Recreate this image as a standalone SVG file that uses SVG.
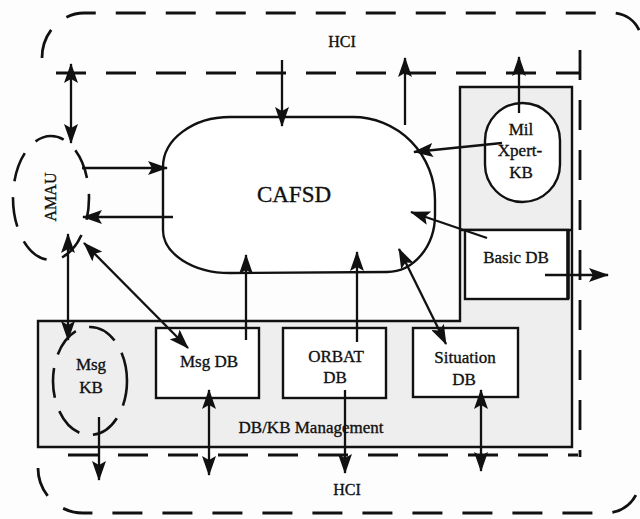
<svg xmlns="http://www.w3.org/2000/svg" width="640" height="519" viewBox="0 0 640 519">
<style>
.t{font-family:"Liberation Serif","Times New Roman",serif;font-size:17px;fill:#111;stroke:#111;stroke-width:0.35;text-anchor:middle}
.box{fill:#fff;stroke:#111;stroke-width:2.4}
.dash{fill:none;stroke:#111;stroke-width:2.8;stroke-dasharray:30 20}
.edash{fill:none;stroke:#111;stroke-width:2.6}
.c{fill:none;stroke:#111;stroke-width:2.3}
</style>
<defs>
<marker id="ah" viewBox="0 0 20 14" refX="19" refY="7" markerWidth="20" markerHeight="14" markerUnits="userSpaceOnUse" orient="auto-start-reverse">
<path d="M0,0 L20,7 L0,14 L4,7 z" fill="#111"/>
</marker>
</defs>
<rect x="0" y="0" width="640" height="519" fill="#fdfdfd"/>

<g id="hci">
<path class="dash" d="M42,58 A42,45 0 0 1 84,13 L612,13 A30,30 0 0 1 642,43"/>
<path class="dash" d="M38,468 A45,45 0 0 0 83,513 L606,513 A34,34 0 0 0 640,479"/>
<path class="dash" d="M56,73 L580,73"/>
<path class="dash" d="M580,50 L580,457"/>
<path class="dash" d="M68,455 L578,455"/>
<text class="t" x="342" y="47" style="font-size:16px">HCI</text>
<text class="t" x="347" y="495" style="font-size:16px">HCI</text>
</g>

<g id="dbkb-management">
<path d="M38,321 L460,321 L460,87 L572,87 L572,447 L38,447 Z" fill="#eeeeee" stroke="#111" stroke-width="2.4"/>
<text class="t" x="311" y="433">DB/KB Management</text>
</g>

<g id="amau">
<ellipse class="edash" cx="51" cy="198" rx="38" ry="62" stroke-dasharray="30 16" stroke-dashoffset="8"/>
<text class="t" transform="translate(56,197) rotate(-90)" style="font-size:16px">AMAU</text>
</g>

<g id="cafsd">
<path class="box" d="M230,117 L353,117 A82,83 0 0 1 435,200 L435,215 A48,57 0 0 1 387,272 L230,273 A67,43 0 0 1 163,230 L163,167 A67,50 0 0 1 230,117 Z"/>
<text class="t" x="294" y="202" style="font-size:23px">CAFSD</text>
</g>

<g id="mil-xpert-kb">
<rect class="box" x="485" y="103" width="75" height="99" rx="37.5"/>
<text class="t" x="521" y="135">Mil</text>
<text class="t" x="520" y="156">Xpert-</text>
<text class="t" x="521" y="178">KB</text>
</g>

<g id="basic-db">
<line x1="460" y1="230" x2="572" y2="230" stroke="#111" stroke-width="2.4"/>
<rect class="box" x="465" y="230" width="103" height="69"/>
<line x1="568" y1="230" x2="568" y2="299" stroke="#111" stroke-width="3.5"/>
<text class="t" x="516" y="263">Basic DB</text>
</g>

<g id="msg-kb">
<ellipse class="edash" cx="90" cy="381" rx="37" ry="54" stroke-dasharray="30 14" stroke-dashoffset="5"/>
<text class="t" x="91" y="370">Msg</text>
<text class="t" x="91" y="393">KB</text>
</g>

<g id="msg-db">
<rect class="box" x="156" y="328" width="103" height="70"/>
<text class="t" x="209" y="367">Msg DB</text>
</g>

<g id="orbat-db">
<rect class="box" x="283" y="328" width="103" height="70"/>
<text class="t" x="336" y="362">ORBAT</text>
<text class="t" x="335" y="383">DB</text>
</g>

<g id="situation-db">
<rect class="box" x="413" y="328" width="105" height="69"/>
<text class="t" x="465" y="363">Situation</text>
<text class="t" x="464" y="385">DB</text>
</g>

<g id="connectors">
<line class="c" x1="71" y1="64" x2="71" y2="143" marker-start="url(#ah)" marker-end="url(#ah)"/>
<line class="c" x1="282" y1="60" x2="282" y2="126" marker-end="url(#ah)"/>
<line class="c" x1="405" y1="125" x2="405" y2="58" marker-end="url(#ah)"/>
<line class="c" x1="519" y1="113" x2="519" y2="57" marker-end="url(#ah)"/>
<line class="c" x1="502" y1="143" x2="414" y2="152" marker-end="url(#ah)"/>
<line class="c" x1="487" y1="238" x2="411" y2="212" marker-end="url(#ah)"/>
<line class="c" x1="399" y1="249" x2="446" y2="344" marker-start="url(#ah)" marker-end="url(#ah)"/>
<line class="c" x1="246" y1="340" x2="246" y2="255" marker-end="url(#ah)"/>
<line class="c" x1="357" y1="342" x2="357" y2="252" marker-end="url(#ah)"/>
<line class="c" x1="345" y1="390" x2="345" y2="473" marker-end="url(#ah)"/>
<line class="c" x1="481" y1="390" x2="481" y2="471" marker-start="url(#ah)" marker-end="url(#ah)"/>
<line class="c" x1="209" y1="390" x2="209" y2="475" marker-start="url(#ah)" marker-end="url(#ah)"/>
<line class="c" x1="99" y1="417" x2="99" y2="480" marker-end="url(#ah)"/>
<line class="c" x1="545" y1="275" x2="608" y2="275" marker-end="url(#ah)"/>
<line class="c" x1="82" y1="168" x2="167" y2="168" marker-end="url(#ah)"/>
<line class="c" x1="173" y1="217" x2="83" y2="217" marker-end="url(#ah)"/>
<line class="c" x1="68" y1="234" x2="68" y2="340" marker-start="url(#ah)" marker-end="url(#ah)"/>
<line class="c" x1="84" y1="243" x2="188" y2="348" marker-start="url(#ah)" marker-end="url(#ah)"/>
</g>
</svg>
